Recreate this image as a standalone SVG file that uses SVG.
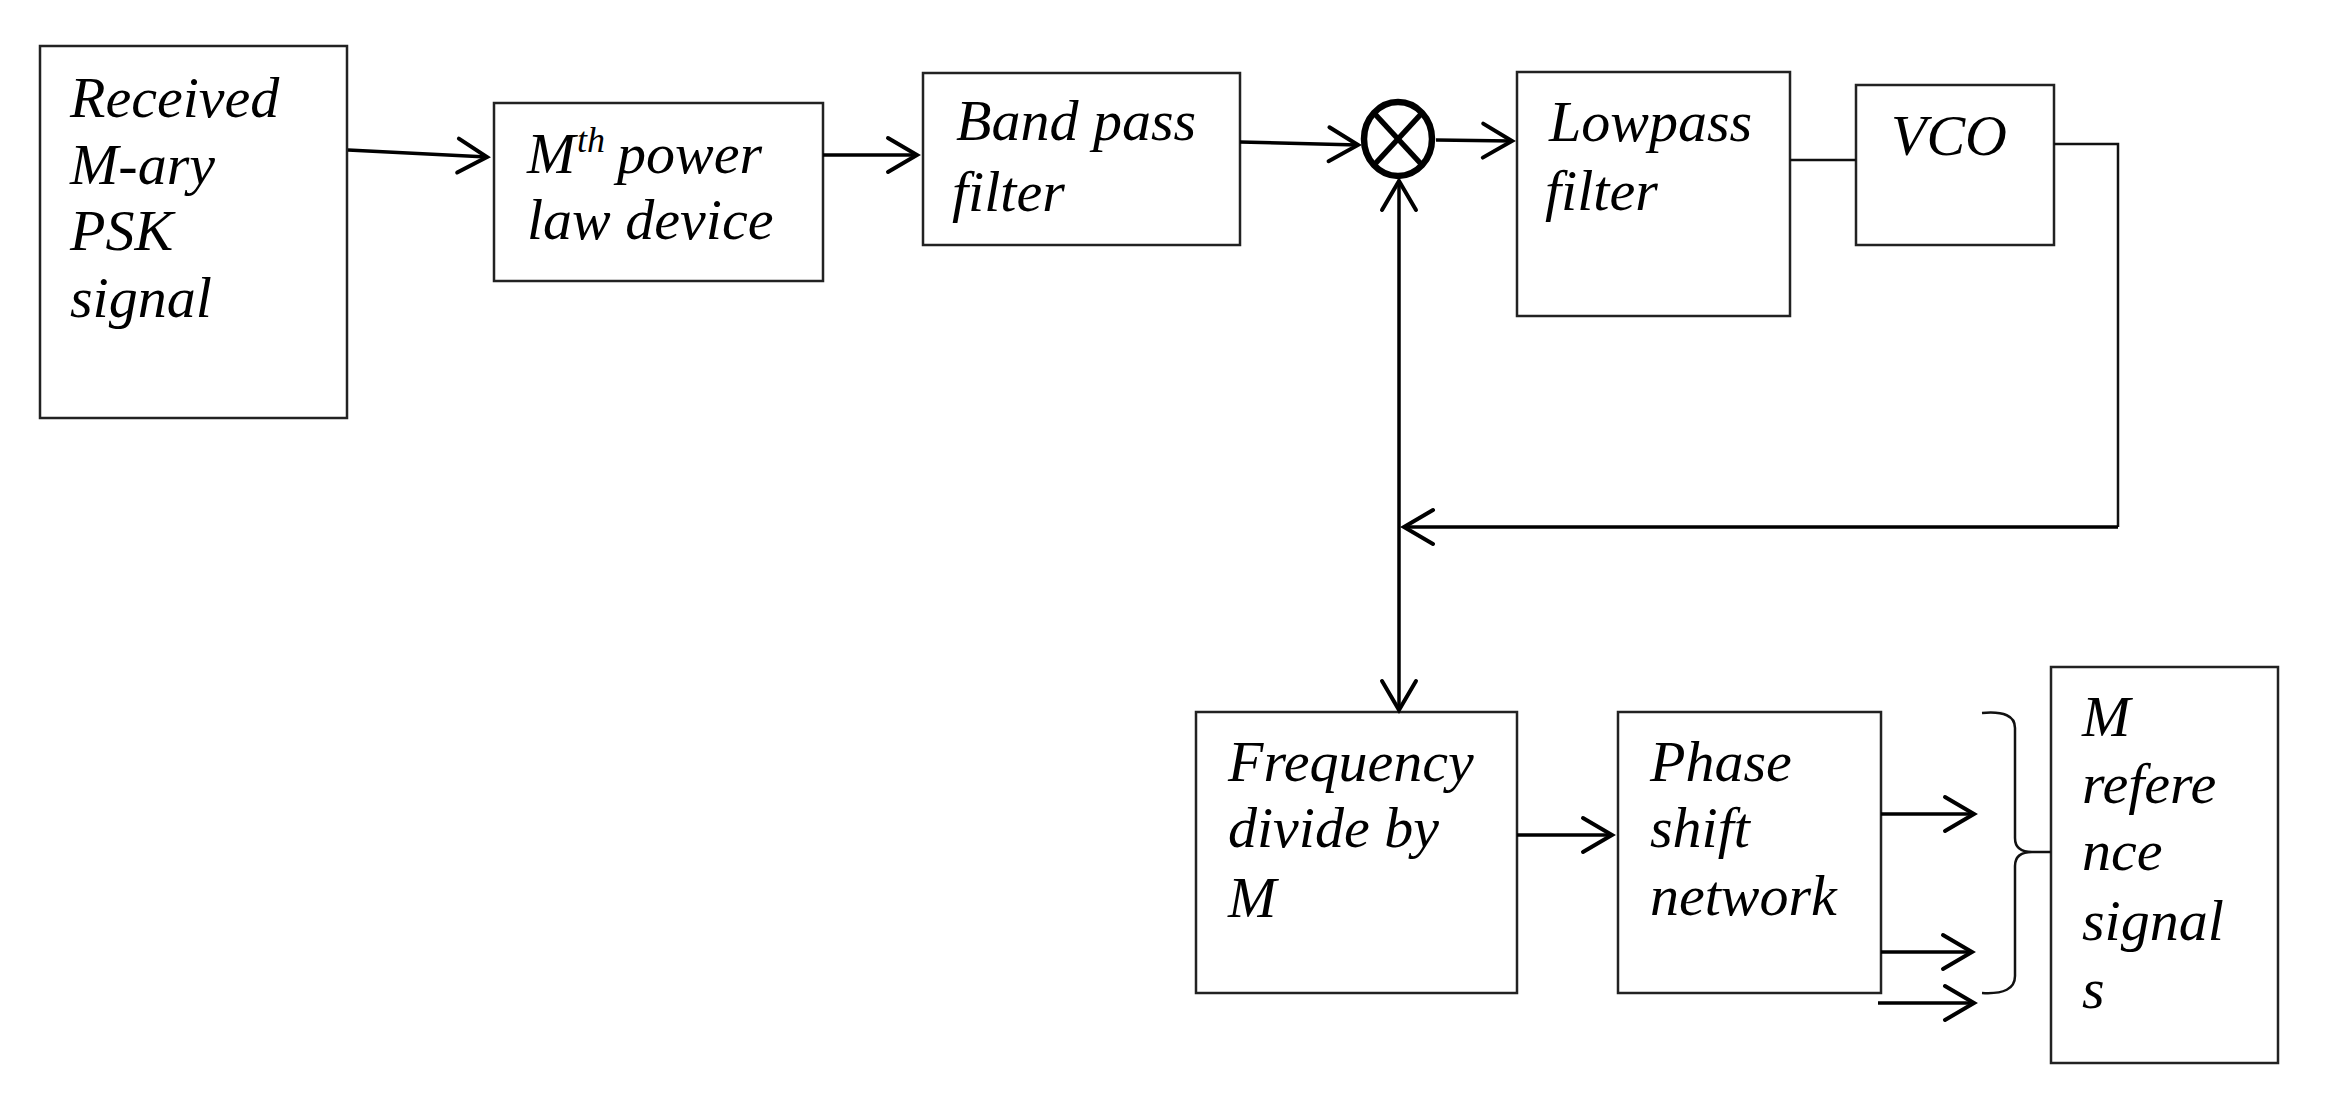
<svg xmlns="http://www.w3.org/2000/svg" width="2326" height="1113" viewBox="0 0 2326 1113">
<style>
.box{fill:#fff;stroke:#222;stroke-width:2.5}
.t{font-family:"Liberation Serif","Times New Roman",serif;font-style:italic;font-size:58px;fill:#000}
.sup{font-size:36px}
.arr{fill:none;stroke:#000;stroke-width:3.5;marker-end:url(#ah)}
.thin{fill:none;stroke:#111;stroke-width:2.5}
</style>
<defs>
<marker id="ah" markerUnits="userSpaceOnUse" markerWidth="44" markerHeight="44" viewBox="-38 -22 44 44" refX="0" refY="0" orient="auto-start-reverse">
<path d="M-29,-17 L0,0 L-29,17" fill="none" stroke="#000" stroke-width="4" stroke-linecap="round" stroke-linejoin="miter"/>
</marker>
</defs>
<rect width="2326" height="1113" fill="#fff"/>
<g id="received">
<rect class="box" x="40" y="46" width="307" height="372"/>
<text class="t" x="70" y="117">Received</text>
<text class="t" x="70" y="184">M-ary</text>
<text class="t" x="70" y="250">PSK</text>
<text class="t" x="70" y="317">signal</text>
</g>
<g id="mth-power">
<rect class="box" x="494" y="103" width="329" height="178"/>
<text class="t" x="527" y="173">M</text>
<text class="t sup" x="577" y="152">th</text>
<text class="t" x="617" y="173">power</text>
<text class="t" x="527" y="239">law device</text>
</g>
<g id="bandpass">
<rect class="box" x="923" y="73" width="317" height="172"/>
<text class="t" x="956" y="140">Band pass</text>
<text class="t" x="952" y="211">filter</text>
</g>
<g id="multiplier">
<ellipse cx="1398" cy="139" rx="34" ry="37" fill="#fff" stroke="#000" stroke-width="6.5"/>
<line x1="1374" y1="113" x2="1422" y2="165" stroke="#000" stroke-width="5.5"/>
<line x1="1422" y1="113" x2="1374" y2="165" stroke="#000" stroke-width="5.5"/>
</g>
<g id="lowpass">
<rect class="box" x="1517" y="72" width="273" height="244"/>
<text class="t" x="1549" y="141">Lowpass</text>
<text class="t" x="1545" y="210">filter</text>
</g>
<g id="vco">
<rect class="box" x="1856" y="85" width="198" height="160"/>
<text class="t" x="1891" y="155">VCO</text>
</g>
<g id="freqdiv">
<rect class="box" x="1196" y="712" width="321" height="281"/>
<text class="t" x="1228" y="781">Frequency</text>
<text class="t" x="1228" y="847">divide by</text>
<text class="t" x="1228" y="917">M</text>
</g>
<g id="phaseshift">
<rect class="box" x="1618" y="712" width="263" height="281"/>
<text class="t" x="1650" y="781">Phase</text>
<text class="t" x="1650" y="847">shift</text>
<text class="t" x="1650" y="915">network</text>
</g>
<g id="mref">
<rect class="box" x="2051" y="667" width="227" height="396"/>
<text class="t" x="2082" y="736">M</text>
<text class="t" x="2082" y="803">refere</text>
<text class="t" x="2082" y="870">nce</text>
<text class="t" x="2082" y="940">signal</text>
<text class="t" x="2082" y="1008">s</text>
</g>
<g id="connectors">
<line class="arr" x1="348" y1="150" x2="487" y2="157"/>
<line class="arr" x1="823" y1="155" x2="917" y2="155"/>
<line class="arr" x1="1240" y1="142" x2="1358" y2="145"/>
<line class="arr" x1="1436" y1="140" x2="1512" y2="141"/>
<line class="thin" x1="1790" y1="160" x2="1856" y2="160"/>
<path class="thin" d="M2054,144 L2118,144 L2118,527"/>
<line class="arr" x1="2118" y1="527" x2="1404" y2="527"/>
<line class="arr" x1="1399" y1="181" x2="1399" y2="710" style="marker-start:url(#ah)"/>
<line class="arr" x1="1517" y1="835" x2="1612" y2="835"/>
<line class="arr" x1="1881" y1="814" x2="1974" y2="814"/>
<line class="arr" x1="1881" y1="952" x2="1972" y2="952"/>
<line class="arr" x1="1878" y1="1003" x2="1974" y2="1003"/>
<path class="thin" d="M1982,713 Q2015,710 2015,728 L2015,838 Q2015,852 2032,852 L2051,852 M2032,852 Q2015,852 2015,866 L2015,976 Q2015,995 1982,993"/>
</g>
</svg>
